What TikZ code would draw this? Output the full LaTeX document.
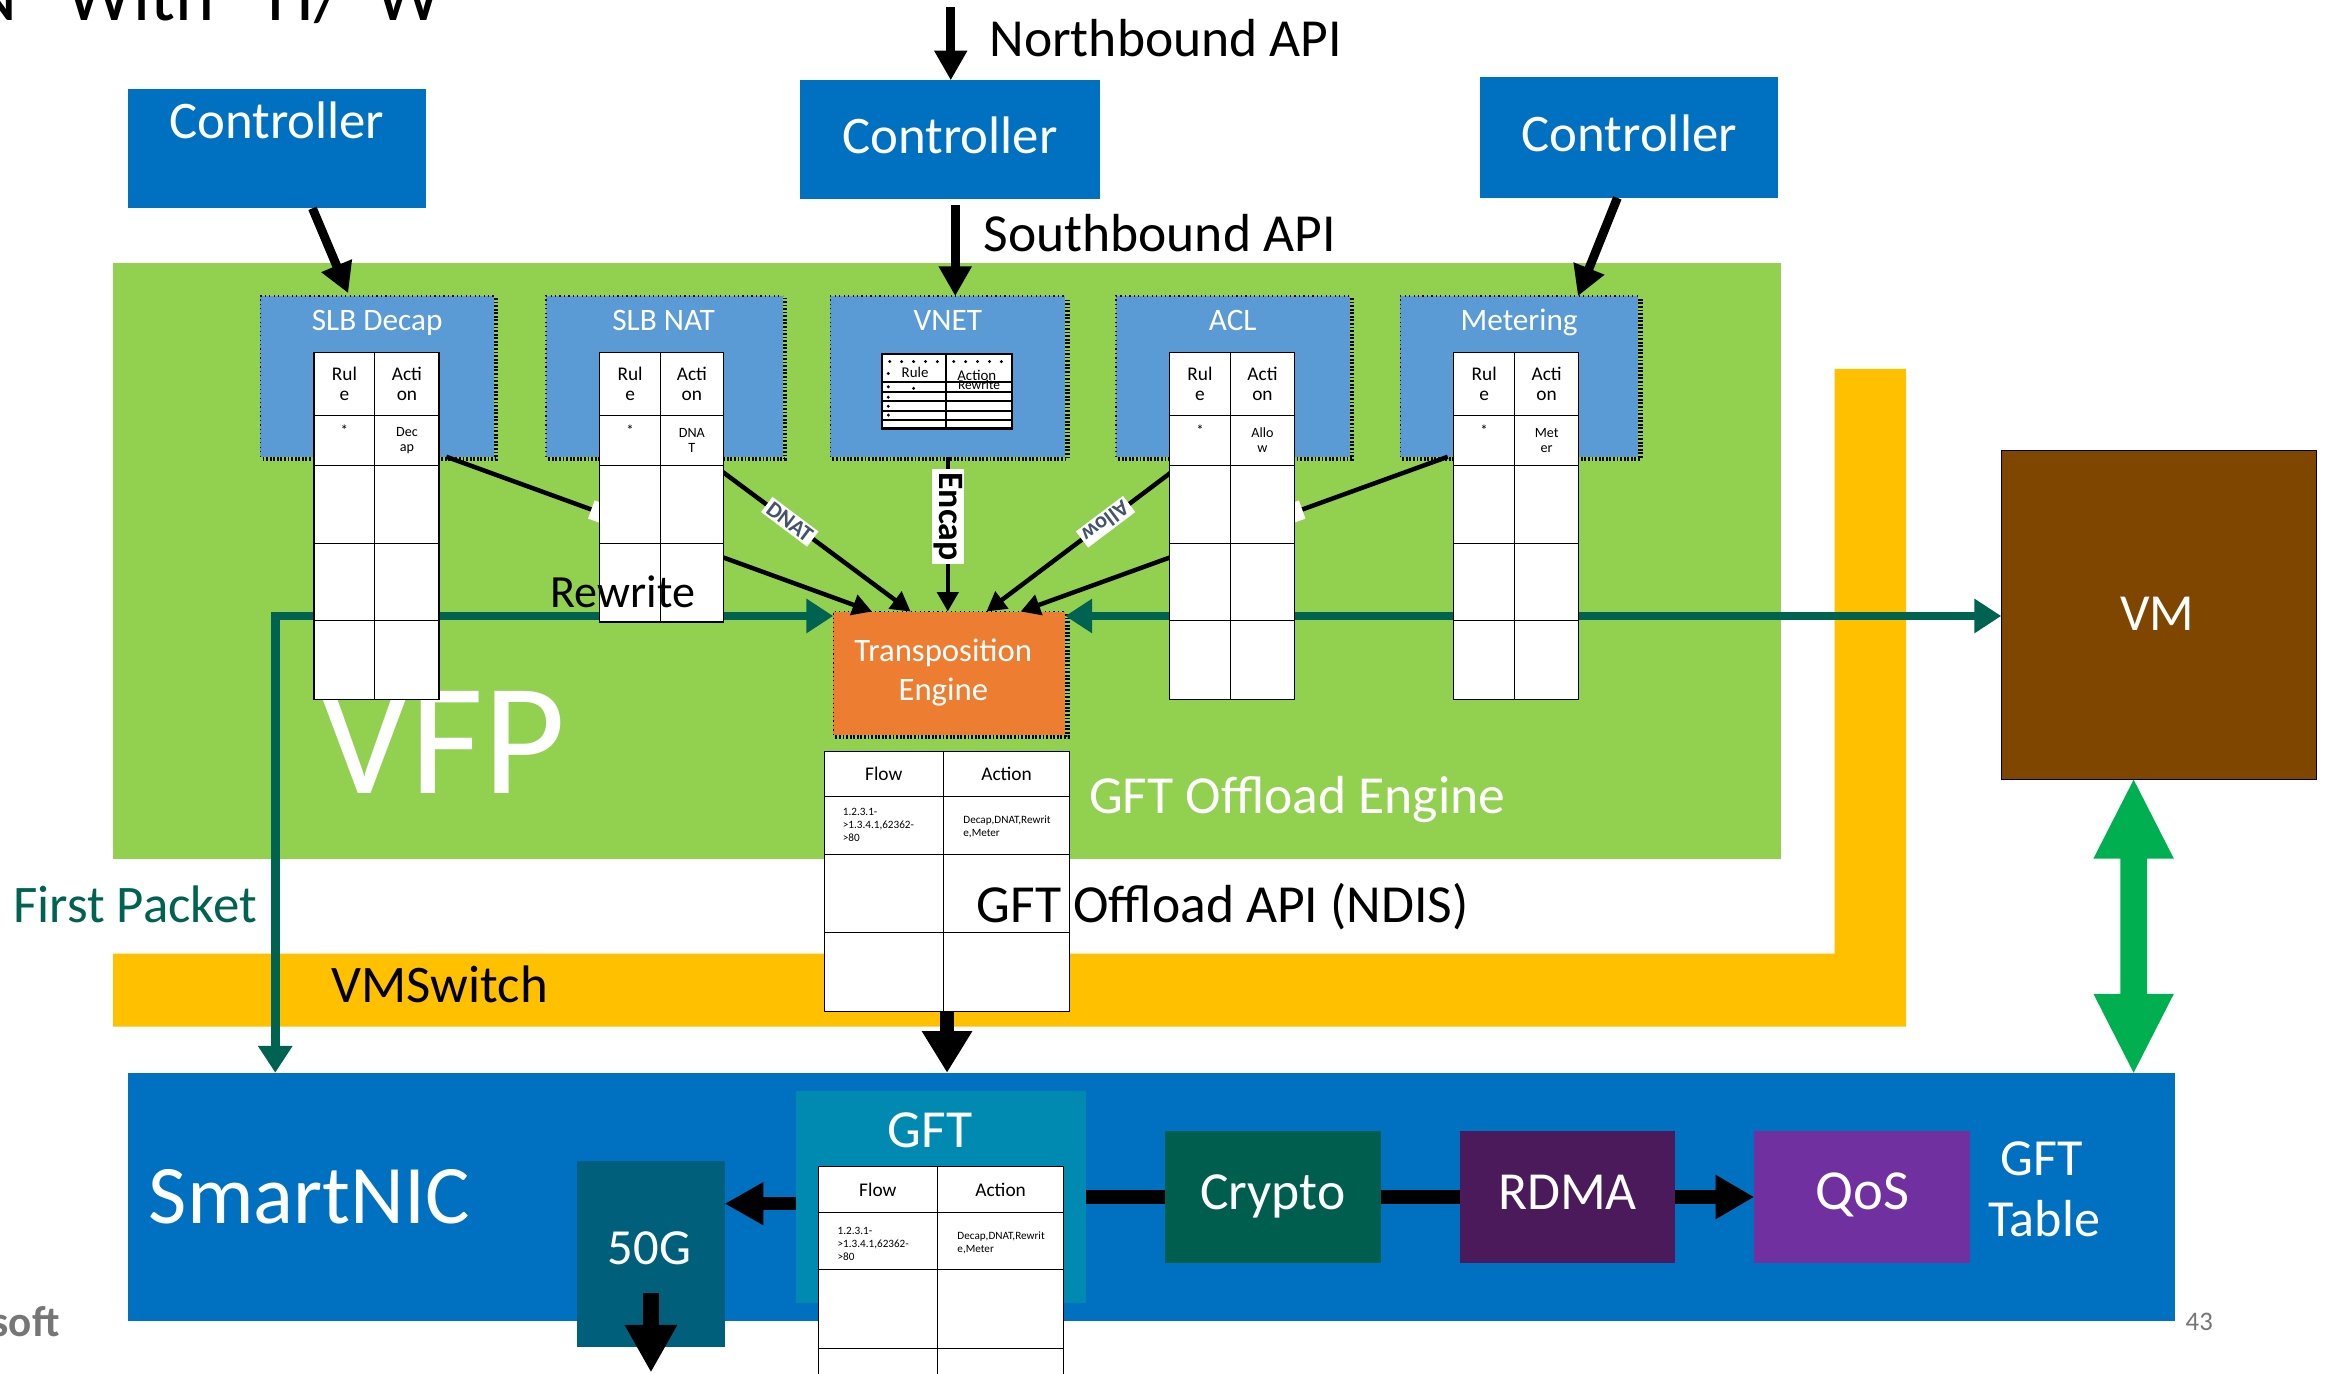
\documentclass[tikz,border=0pt]{standalone}
\usepackage{fontspec}
\setmainfont{Carlito}
\usetikzlibrary{arrows.meta}
\definecolor{ctrlblue}{HTML}{0070C0}
\definecolor{modblue}{HTML}{5B9BD5}
\definecolor{vfpgreen}{HTML}{92D050}
\definecolor{teorange}{HTML}{ED7D31}
\definecolor{swyellow}{HTML}{FFC000}
\definecolor{fpteal}{HTML}{006352}
\definecolor{vmbrown}{HTML}{7F4600}
\definecolor{gftteal}{HTML}{008AB2}
\definecolor{gfifty}{HTML}{005F7A}
\definecolor{cryptog}{HTML}{005E4E}
\definecolor{rdmap}{HTML}{4B1A5A}
\definecolor{qosp}{HTML}{7030A0}
\definecolor{dblgreen}{HTML}{00B050}
\definecolor{lblblue}{HTML}{44546A}
\definecolor{pagegray}{HTML}{767676}
\newcommand\fsz[2]{\fontsize{#1}{#2}\selectfont}
\newcommand\rbox[6]{\node[#6, minimum width={#4-#2}, minimum height={#5-#3}] (#1) at ({(#2+#4)/2},{(#3+#5)/2}) {};}
\newcommand\jagged[1]{%
  \draw[jag] ([xshift=1.5pt,yshift=-1.5pt]#1.south west) -- ([xshift=1.5pt,yshift=-1.5pt]#1.south east) -- ([xshift=1.5pt,yshift=-1.5pt]#1.north east);
  \draw[black, line width=0.8pt, dash pattern=on 0.8pt off 2.2pt] (#1.south west) -- (#1.north west) -- (#1.north east);}
\newcommand\mtable[7]{%
  \node[tbl, minimum width={#4-#2}, minimum height={#6-#5}] (#1) at ({(#2+#4)/2},{(#5+#6)/2}) {};
  \draw[tblline] (#3,#5) -- (#3,#6);
  \foreach \yy in {#7} {\draw[tblline] (#2,\yy) -- (#4,\yy);}}
\newcommand\mcells[5]{%
  \node[hdrtxt] (#1a) at ({(#2+#3)/2},258) {Rul\\e};
  \node[hdrtxt] (#1b) at ({(#3+#4)/2},258) {Acti\\on};
  \node[startxt] (#1c) at ({(#2+#3)/2},289) {*};
  \node[smalltxt] (#1d) at ({(#3+#4)/2},296) {#5};}

\begin{document}
\begin{tikzpicture}[x=1pt,y=-1pt,
  every node/.style={inner sep=0pt,outer sep=0pt},
  ctrl/.style={fill=ctrlblue},
  mod/.style={fill=modblue},
  tbl/.style={fill=white, draw=black, line width=0.8pt},
  tblline/.style={black, line width=0.7pt},
  hdrtxt/.style={align=center, font=\fsz{13}{13}},
  smalltxt/.style={align=center, font=\fsz{9.5}{10}},
  startxt/.style={font=\fsz{10}{10}},
  wtxt/.style={text=white},
  jag/.style={black, line width=3pt, dash pattern=on 1.2pt off 1.2pt},
  feed/.style={black, line width=3pt, -{Triangle[length=13pt,width=14pt]}},
  ctlarrow/.style={black, line width=6pt, -{Triangle[length=20pt,width=21pt]}},
  fparrow/.style={fpteal, line width=6pt, {Triangle[length=18pt,width=22pt]}-{Triangle[length=18pt,width=22pt]}},
  bigarrow/.style={black, line width=9pt, -{Triangle[length=26pt,width=28pt]}},
  lbl/.style={fill=white, text=lblblue, font=\fsz{15}{15}\bfseries, inner xsep=2pt, inner ysep=1.5pt},
  minitbl/.style={black, line width=1.4pt}]
\path[use as bounding box] (0,0) rectangle (1568,923);
\clip (0,0) rectangle (1568,923);
\fill[white] (0,0) rectangle (1568,923);

% title (cut off by the top edge)
\node[anchor=base west, font=\fsz{50}{50}] (title) at (45,13.5) {\llap{SDN\hspace{33pt}}With\hspace{36pt}H/\hspace{22pt}W};

% big containers
\rbox{vfp}{76}{177}{1197}{577}{fill=vfpgreen}
\fill[swyellow] (76,641) -- (1233,641) -- (1233,248) -- (1281,248) -- (1281,690) -- (76,690) -- cycle;
\node[fill=vmbrown, draw=black!70!blue, line width=0.8pt, minimum width=212pt, minimum height=221pt] (vm) at (1451,413.5) {};
\node[wtxt, anchor=base, font=\fsz{35}{40}] (vmt) at (1450,424) {VM};
\rbox{sn}{86}{721}{1462}{888}{fill=ctrlblue}
\node[wtxt, anchor=base west, font=\fsz{56}{60}] (snt) at (100,822) {SmartNIC};
\node[anchor=base west, font=\fsz{35.5}{40}] (vmsw) at (223,674) {VMSwitch};
\node[wtxt, anchor=base west, font=\fsz{107}{110}] (vfpt) at (215,533) {VFP};

% controllers
\rbox{c1}{86}{60}{286}{140}{ctrl}
\rbox{c2}{538}{54}{739}{134}{ctrl}
\rbox{c3}{995}{52}{1195}{133}{ctrl}
\node[wtxt, anchor=base, font=\fsz{35.5}{40}] (c1t) at (186,93) {Controller};
\node[wtxt, anchor=base, font=\fsz{35.5}{40}] (c2t) at (638.5,103) {Controller};
\node[wtxt, anchor=base, font=\fsz{35.5}{40}] (c3t) at (1095,102) {Controller};

% modules
\rbox{m1}{175}{199}{332}{307}{mod}
\rbox{m2}{367}{199}{526}{307}{mod}
\rbox{m3}{558}{199}{716}{307}{mod}
\rbox{m4}{750}{199}{907}{307}{mod}
\rbox{m5}{941}{199}{1101}{307}{mod}
\foreach \m in {m1,m2,m3,m4,m5} {\jagged{\m}}
\node[wtxt, anchor=base, font=\fsz{21}{22}] (m1t) at (253.5,222) {SLB Decap};
\node[wtxt, anchor=base, font=\fsz{21}{22}] (m2t) at (446,222) {SLB NAT};
\node[wtxt, anchor=base, font=\fsz{21}{22}] (m3t) at (637,222) {VNET};
\node[wtxt, anchor=base, font=\fsz{21}{22}] (m4t) at (828.5,222) {ACL};
\node[wtxt, anchor=base, font=\fsz{21}{22}] (m5t) at (1021,222) {Metering};

% controller arrows
\coordinate (nbtop) at (639,5);
\draw[ctlarrow] (nbtop) -- ([xshift=0.5pt]c2.north);
\draw[ctlarrow] ([xshift=24pt]c1.south) -- ([xshift=-19.5pt,yshift=2pt]m1.north);
\draw[ctlarrow] ([xshift=3.5pt,yshift=-4pt]c2.south) -- ([xshift=5pt]m3.north);
\draw[ctlarrow] ([xshift=-8pt]c3.south) -- ([xshift=39.5pt]m5.north);
\node[anchor=base west, font=\fsz{36}{40}] (nbt) at (665,38) {Northbound API};
\node[anchor=base west, font=\fsz{36}{40}] (sbt) at (661,169) {Southbound API};

% transposition engine
\rbox{te}{560}{411}{716}{494}{fill=teorange}
\jagged{te}
\node[wtxt, align=center, font=\fsz{22}{26}] (tet) at (634,452) {Transposition\\Engine};

% feed lines into the engine
\draw[feed] ([xshift=-32pt]m1.south east) -- ([xshift=26pt]te.north west)
  node[pos=0.39, sloped, fill=white, minimum width=30pt, minimum height=13pt] (lbhid1) {};
\draw[feed] ([xshift=-54pt]m2.south east) -- ([xshift=52pt]te.north west)
  node[pos=0.42, lbl, rotate=-37] (lbdnat) {DNAT};
\draw[feed] (m3.south) -- (m3.south |- te.north)
  node[pos=0.386, fill=white, rotate=-90, font=\fsz{24}{24}\bfseries, inner xsep=2pt, inner ysep=1pt] (lbencap) {Encap};
\draw[feed] ([xshift=51pt]m4.south west) -- ([xshift=103pt]te.north west)
  node[pos=0.42, lbl, rotate=217] (lballow) {Allow};
\draw[feed] ([xshift=32pt]m5.south west) -- ([xshift=126pt]te.north west)
  node[pos=0.39, sloped, fill=white, minimum width=30pt, minimum height=13pt] (lbhid2) {};

% first packet / VM paths
\draw[fparrow] ([xshift=99pt]sn.north west) |- ([yshift=-3pt]te.north west);
\draw[fparrow] ([yshift=-3pt]te.north east) -- ([yshift=-3pt]te.north east -| vm.west);

% module tables
\mtable{t1}{211}{252}{295}{237}{470}{279,313,365,417}
\mtable{t2}{403}{444}{486}{237}{418}{279,313,365}
\mtable{t4}{786}{827}{870}{237}{470}{279,313,365,417}
\mtable{t5}{977}{1018}{1061}{237}{470}{279,313,365,417}
\mcells{t1}{211}{252}{295}{Dec\\ap}
\mcells{t2}{403}{444}{486}{DNA\\T}
\mcells{t4}{786}{827}{870}{Allo\\w}
\mcells{t5}{977}{1018}{1061}{Met\\er}

% VNET mini table
\node[fill=white, draw=black, line width=1.4pt, minimum width=87pt, minimum height=50pt] (vt) at (636.5,263) {};
\draw[minitbl] (636,238) -- (636,288);
\foreach \yy in {257,263.5,269.5,276,282} {\draw[minitbl] (593,\yy) -- (680,\yy);}
\foreach \xx in {598,606,614,622,630,641,649,657,665,673} {\fill (\xx,243) circle (1.1pt);}
\foreach \yy in {251,260,267,273,279} {\fill (597,\yy) circle (1.1pt);}
\fill (614,261) circle (1.1pt);
\node[font=\fsz{10}{10}] (vtr) at (615,250) {Rule};
\node[font=\fsz{10}{10}] (vta) at (656.5,252) {Action};
\node[font=\fsz{9}{9}] (vtw) at (658,258.5) {Rewrite};

\node[anchor=base west, font=\fsz{31}{34}] (rewr) at (370,408) {Rewrite};

% GFT offload table
\mtable{ft}{554}{634}{719}{505}{680}{535.5,574,627}
\node[font=\fsz{13}{13}] (fth1) at (594,520) {Flow};
\node[font=\fsz{13}{13}] (fth2) at (676.5,520) {Action};
\node[anchor=north west, align=left, font=\fsz{7.5}{9}] (ftd1) at (566.5,543) {1.2.3.1-\\>1.3.4.1,62362-\\>80};
\node[anchor=north west, align=left, font=\fsz{7.5}{8.5}] (ftd2) at (647.5,548.5) {Decap,DNAT,Rewrit\\e,Meter};
\node[wtxt, anchor=base west, font=\fsz{36}{40}] (gfte) at (732,547) {GFT Offload Engine};
\node[anchor=base west, font=\fsz{36}{40}] (gftapi) at (656.5,620) {GFT Offload API (NDIS)};
\node[text=fpteal, anchor=base west, font=\fsz{35.5}{40}] (fpk) at (9,620) {First Packet};

% green double arrow between VM and SmartNIC
\coordinate (ga) at ([xshift=-17pt]vm.south);
\fill[dblgreen] (ga) -- ++(27,53) -- ++(-18,0) -- ++(0,91) -- ++(18,0) -- ++(-27,53) -- ++(-27,-53) -- ++(18,0) -- ++(0,-91) -- ++(-18,0) -- cycle;

% down arrow from table to SmartNIC
\draw[black, line width=10pt, -{Triangle[length=28pt,width=32pt]}] (ft.south) -- (ft.south |- sn.north);

% SmartNIC contents
\rbox{gftb}{535}{733}{730}{876}{fill=gftteal}
\node[wtxt, anchor=base, font=\fsz{36}{40}] (gftt) at (625,771) {GFT};
\rbox{g50}{388}{780}{487}{905}{fill=gfifty}
\node[wtxt, anchor=base, font=\fsz{34}{40}] (g50t) at (436.5,850) {50G};
\mtable{gt}{550}{630}{715}{784}{960}{815,853.5,906}
\node[font=\fsz{13}{13}] (gth1) at (590,800) {Flow};
\node[font=\fsz{13}{13}] (gth2) at (672.5,800) {Action};
\node[anchor=north west, align=left, font=\fsz{7.5}{9}] (gtd1) at (563,824.5) {1.2.3.1-\\>1.3.4.1,62362-\\>80};
\node[anchor=north west, align=left, font=\fsz{7.5}{8.5}] (gtd2) at (643.5,828) {Decap,DNAT,Rewrit\\e,Meter};

\rbox{crypto}{783}{760}{928}{849}{fill=cryptog}
\rbox{rdma}{981}{760}{1126}{849}{fill=rdmap}
\rbox{qos}{1179}{760}{1324}{849}{fill=qosp}
\node[wtxt, anchor=base, font=\fsz{36}{40}] (cryt) at (855.5,813) {Crypto};
\node[wtxt, anchor=base, font=\fsz{36}{40}] (rdmt) at (1053.5,813) {RDMA};
\node[wtxt, anchor=base, font=\fsz{38}{40}] (qost) at (1251.5,813) {QoS};
\node[wtxt, anchor=base, font=\fsz{35}{40}] (gtt1) at (1372,790) {GFT};
\node[wtxt, anchor=base, font=\fsz{35}{40}] (gtt2) at (1374,831) {Table};

\draw[black, line width=9pt] (gftb.east) -- (crypto.west);
\draw[black, line width=9pt] (crypto.east) -- (rdma.west);
\draw[bigarrow] (rdma.east) -- (qos.west);
\draw[black, line width=9pt, -{Triangle[length=26pt,width=27pt]}] ([yshift=-4.5pt]gftb.west) -- ([yshift=-4.5pt]gftb.west -| g50.east);
\draw[black, line width=11pt, -{Triangle[length=32pt,width=33pt]}] ([yshift=-26.5pt]g50.center) -- ([yshift=-80pt]g50.center);

% footer
\node[text=pagegray, anchor=base west, font=\fsz{18}{20}] (pgno) at (1469,894) {43};
\node[text=pagegray, anchor=base east, font=\fsz{29}{30}\bfseries] (ms) at (40,898.5) {Microsoft};
\end{tikzpicture}
\end{document}
